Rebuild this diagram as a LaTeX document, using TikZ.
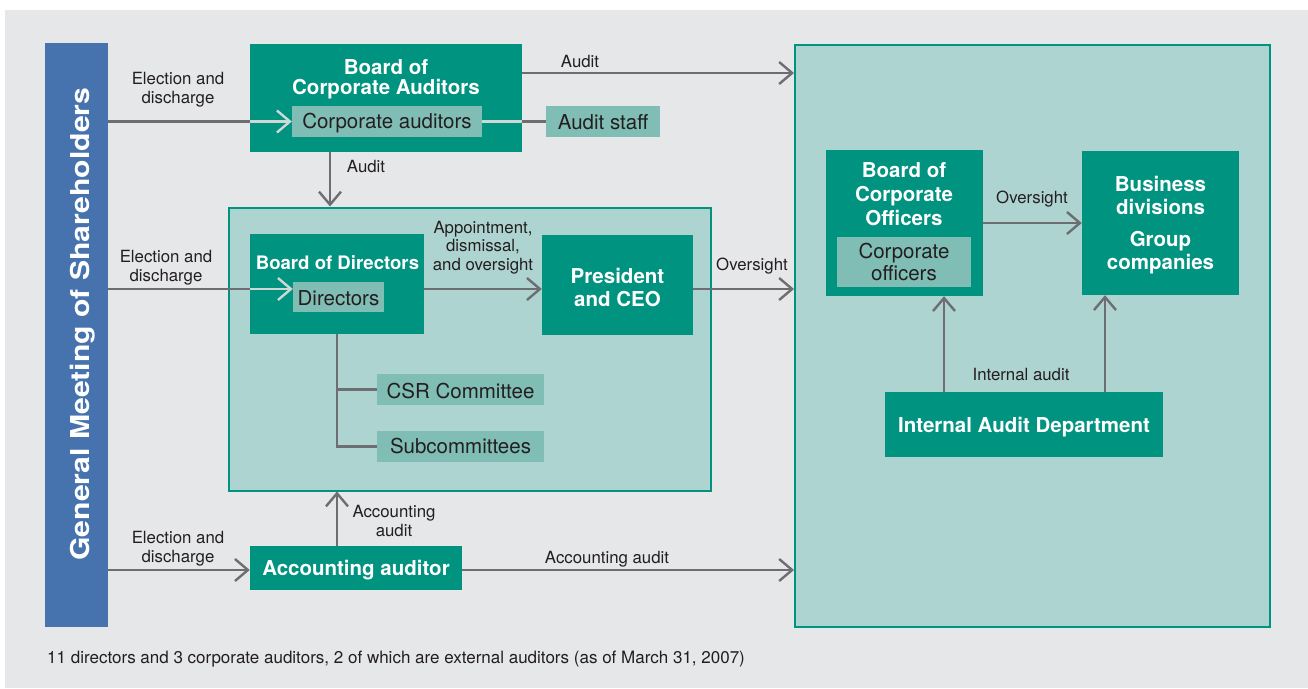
\documentclass[tikz,border=0pt]{standalone}
\usepackage{fontspec}
\setmainfont{TeX Gyre Heros}
\usetikzlibrary{arrows.meta,calc}
\definecolor{bggrey}{HTML}{E6E7E9}
\definecolor{gmblue}{HTML}{4673AD}
\definecolor{tealdark}{HTML}{009380}
\definecolor{teallight}{HTML}{AED4D1}
\definecolor{tealmid}{HTML}{7FBDB5}
\definecolor{linegrey}{HTML}{6D6E71}
\definecolor{linelight}{HTML}{CDD8D7}
\definecolor{txt}{HTML}{231F20}
\tikzset{
  capc/.style={text height=#1, text depth=0pt},
  darkbox/.style={fill=tealdark, draw=none, inner sep=0pt, text=white, align=center,
    font=\fontsize{20.5}{23.5}\selectfont\bfseries, capc=14.8pt},
  midbox/.style={fill=tealmid, draw=none, inner sep=0pt, text=txt, align=center,
    font=\fontsize{20.5}{22}\selectfont, capc=14.8pt},
  bigbox/.style={fill=teallight, draw=tealdark, line width=2pt, inner sep=0pt},
  lbl/.style={text=txt, align=center, inner sep=0pt, font=\fontsize{16.8}{19}\selectfont, capc=12.1pt},
  lbltwo/.style={lbl, capc=31.1pt},
  conn/.style={draw=linegrey, line width=2.4pt},
  connlight/.style={draw=linelight, line width=2.4pt},
  barb/.style={-{Straight Barb[length=13pt,width=22pt,line width=2.4pt]}},
}
\begin{document}
\begin{tikzpicture}[x=1pt,y=-1pt]
\useasboundingbox (0,0) rectangle (1308,688);
\fill[white] (0,0) rectangle (1308,688);
\fill[bggrey] (5,10) rectangle (1308,688);

% big boxes
\node[bigbox, minimum width=482pt, minimum height=283pt] (mid) at (469.5,349) {};
\node[bigbox, minimum width=475pt, minimum height=582pt] (right) at (1032.5,335.5) {};

% general meeting
\node[fill=gmblue, inner sep=0pt, minimum width=63pt, minimum height=584pt] (gm) at (76.5,335) {};
\node[rotate=90, text=white, inner sep=0pt, capc=18.7pt, font=\fontsize{26}{30}\selectfont\bfseries] (gmt) at (80.5,324) {\scalebox{1.16}[1]{General Meeting of Shareholders}};

% board of corporate auditors
\node[darkbox, minimum width=272pt, minimum height=108pt] (bca) at (386,98) {};
\node[darkbox, fill=none, font=\fontsize{20.5}{20.6}\selectfont\bfseries, capc=35.4pt] (bcat) at (386,77) {Board of\\Corporate Auditors};
\node[midbox, minimum width=190pt, minimum height=31pt] (ca) at (387,121.5) {Corporate auditors};
\node[midbox, minimum width=114pt, minimum height=31pt, capc=16.6pt] (staff) at (603,121.5) {Audit staff};

% board of directors
\node[darkbox, minimum width=174pt, minimum height=100pt] (bod) at (337,284) {};
\node[darkbox, fill=none, font=\fontsize{18.6}{21}\selectfont\bfseries, capc=13.4pt] (bodt) at (337.5,262.5) {Board of Directors};
\node[midbox, minimum width=91pt, minimum height=30pt, capc=18.6pt] (dir) at (338.5,296.5) {Directors};
\node[darkbox, minimum width=151pt, minimum height=100pt, capc=44.9pt] (pres) at (617.5,284.5) {President\\and CEO};
\node[midbox, minimum width=167pt, minimum height=31pt, capc=17.2pt] (csr) at (460.5,389.5) {CSR Committee};
\node[midbox, minimum width=167pt, minimum height=31pt] (sub) at (460.5,446.5) {Subcommittees};

% accounting auditor
\node[darkbox, minimum width=212pt, minimum height=44pt] (acc) at (356,568) {Accounting auditor};

% right side
\node[darkbox, minimum width=157pt, minimum height=146pt] (boco) at (904,223) {};
\node[darkbox, fill=none, font=\fontsize{20.5}{24}\selectfont\bfseries, capc=62.8pt] (bocot) at (904,194.5) {Board of\\Corporate\\Officers};
\node[midbox, minimum width=134pt, minimum height=50pt, font=\fontsize{20.5}{21.5}\selectfont, capc=36.3pt] (co) at (904,262) {Corporate\\officers};
\node[darkbox, minimum width=157pt, minimum height=144pt, font=\fontsize{20.5}{23.6}\selectfont\bfseries, capc=93.6pt] (bus) at (1160.5,223) {Business\\divisions\\[8pt]Group\\companies};
\node[darkbox, minimum width=278pt, minimum height=65pt, capc=16.4pt] (iad) at (1024,424.5) {Internal Audit Department};

% helper coordinates
\coordinate (r1) at (0,73);
\coordinate (r2) at (0,289);
\coordinate (r3) at (0,570);

% connectors
\draw[conn] (gm.east |- ca) -- (bca.west |- ca);
\draw[connlight, barb] (bca.west |- ca) -- (ca.west);
\draw[connlight] (ca.east) -- (bca.east |- ca);
\draw[conn] (bca.east |- ca) -- (staff.west);
\draw[conn, barb] (bca.east |- r1) -- (right.west |- r1);
\coordinate (adx) at (330,0);
\draw[conn, barb] (adx |- bca.south) -- (adx |- mid.north);

\draw[conn] (gm.east |- r2) -- (bod.west |- r2);
\draw[connlight, barb] (bod.west |- r2) -- (dir.west |- r2);
\draw[conn, barb] (bod.east |- r2) -- (pres.west |- r2);
\draw[conn, barb] (pres.east |- r2) -- (right.west |- r2);

\coordinate (vx) at (337,0);
\draw[conn] (vx |- bod.south) -- (vx |- sub.west) -- (sub.west);
\draw[conn] (vx |- csr.west) -- (csr.west);

\draw[conn, barb] (gm.east |- r3) -- (acc.west |- r3);
\draw[conn, barb] (vx |- acc.north) -- (vx |- mid.south);
\draw[conn, barb] (acc.east |- r3) -- (right.west |- r3);

\draw[conn, barb] (boco.east) -- (bus.west);
\coordinate (ia1) at (944,0);
\coordinate (ia2) at (1105,0);
\draw[conn, barb] (ia1 |- iad.north) -- (ia1 |- boco.south);
\draw[conn, barb] (ia2 |- iad.north) -- (ia2 |- bus.south);

% labels
\node[lbltwo] (l1) at (178,87.5) {Election and\\discharge};
\node[lbl] (l2) at (580,61.5) {Audit};
\node[lbl] (l3) at (366,166.5) {Audit};
\node[lbltwo] (l4) at (166,265.5) {Election and\\discharge};
\node[lbl, font=\fontsize{16.8}{18.5}\selectfont, capc=49.1pt] (l5) at (483,245.5) {Appointment,\\dismissal,\\and oversight};
\node[lbl] (l6) at (752,264) {Oversight};
\node[lbltwo] (l7) at (178,546.5) {Election and\\discharge};
\node[lbltwo] (l8) at (394,520.5) {Accounting\\audit};
\node[lbl] (l9) at (607,557) {Accounting audit};
\node[lbl] (l10) at (1032,197) {Oversight};
\node[lbl] (l11) at (1021,374) {Internal audit};
\node[lbl, anchor=west, font=\fontsize{17}{20}\selectfont, capc=12.2pt] (foot) at (47,657) {11 directors and 3 corporate auditors, 2 of which are external auditors (as of March 31, 2007)};
\end{tikzpicture}
\end{document}
